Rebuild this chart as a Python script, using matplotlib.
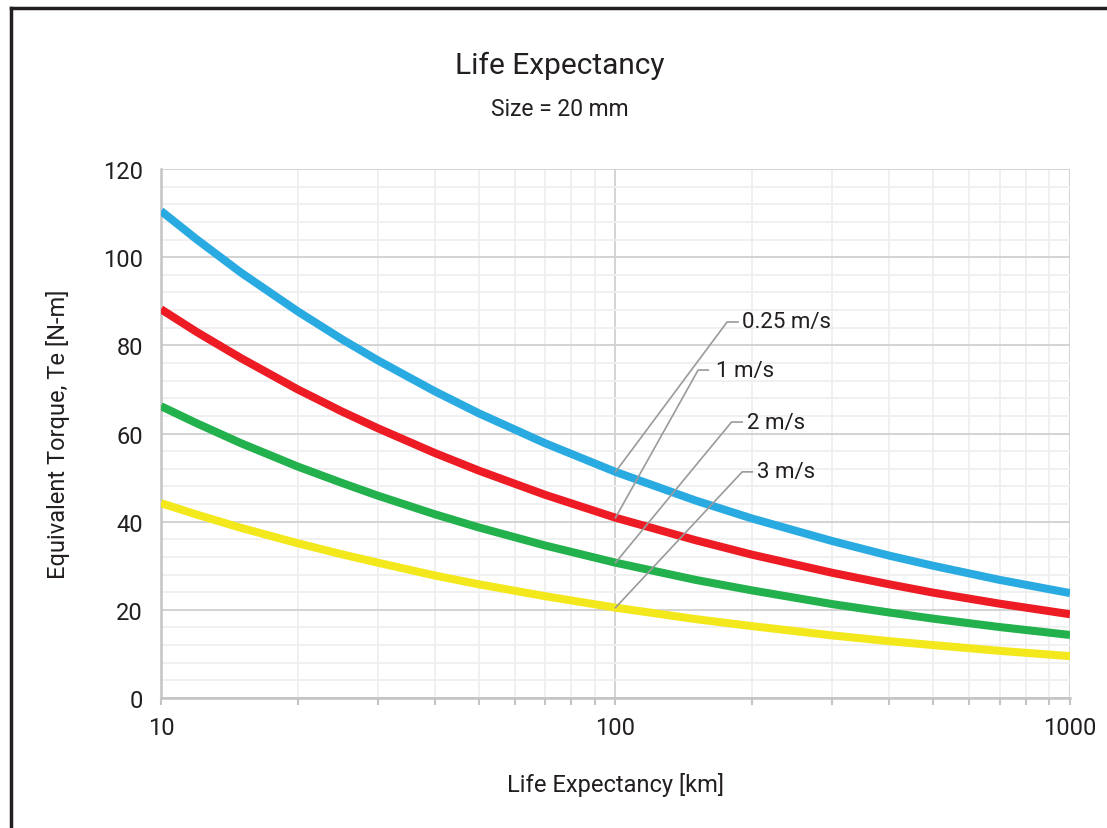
import matplotlib
matplotlib.use("Agg")
import matplotlib.pyplot as plt
from matplotlib.lines import Line2D
from matplotlib.ticker import FixedLocator, NullFormatter

# life expectancy [km]
life_km = [10, 12, 15, 20, 25, 30, 40, 50, 70, 100, 150, 200, 300, 400, 500, 700, 1000]

# equivalent torque [N-m]
torque_025 = [110.5, 104.0, 96.5, 87.7, 81.4, 76.6, 69.6, 64.6, 57.8, 51.3, 44.8, 40.7, 35.6, 32.3, 30.0, 26.8, 23.8]
torque_1 = [88.2, 83.0, 77.1, 70.0, 65.0, 61.2, 55.6, 51.6, 46.1, 40.9, 35.8, 32.5, 28.4, 25.8, 23.9, 21.4, 19.0]
torque_2 = [66.2, 62.3, 57.8, 52.5, 48.8, 45.9, 41.7, 38.7, 34.6, 30.7, 26.8, 24.4, 21.3, 19.4, 18.0, 16.1, 14.3]
torque_3 = [44.2, 41.6, 38.6, 35.1, 32.6, 30.7, 27.8, 25.8, 23.1, 20.5, 17.9, 16.3, 14.2, 12.9, 12.0, 10.7, 9.5]

speed_labels = ["0.25 m/s", "1 m/s", "2 m/s", "3 m/s"]
series = [torque_025, torque_1, torque_2, torque_3]
colors = ["#29abe2", "#ed1c24", "#22b14c", "#f2e81c"]

y_ticks = [0, 20, 40, 60, 80, 100, 120]
x_ticks = [10, 100, 1000]

# where the leader lines end (kink) and where the text sits
kink_x = [176, 152, 180, 190]
kink_y = [85.3, 74.4, 62.6, 51.3]
end_x = [186, 160, 190, 200]
text_x = [190, 166, 195, 205]

fam = ["Liberation Sans Narrow", "Roboto", "DejaVu Sans"]
txt = "#231f20"
plt.rcParams["font.family"] = fam

fig = plt.figure(figsize=(11.07, 8.29), dpi=100)
ax = fig.add_axes([0.1454, 0.1568, 0.8212, 0.6381])

for vals, c in zip(series, colors):
    ax.plot(life_km, vals, color=c, lw=5.8, solid_capstyle="butt", zorder=3)

ax.set_xscale("log")
ax.set_xlim(10, 1000)
ax.set_ylim(0, 120)

ax.xaxis.set_major_locator(FixedLocator(x_ticks))
ax.xaxis.set_minor_locator(FixedLocator([v * d for d in (10, 100) for v in range(2, 10)]))
ax.xaxis.set_minor_formatter(NullFormatter())
ax.set_xticklabels([str(v) for v in x_ticks])
ax.yaxis.set_major_locator(FixedLocator(y_ticks))
ax.yaxis.set_minor_locator(FixedLocator([v for v in range(0, 121, 4) if v % 20]))

ax.grid(which="major", color="#d0d0d0", lw=1.3, zorder=0)
ax.grid(which="minor", color="#efefef", lw=1.3, zorder=0)

for s in ["top", "right"]:
    ax.spines[s].set_visible(False)
for s in ["left", "bottom"]:
    ax.spines[s].set_color("#c4c4c4")
    ax.spines[s].set_linewidth(1.8)

ax.tick_params(axis="y", which="both", length=0, labelsize=17, colors=txt, pad=13)
ax.tick_params(axis="x", which="both", direction="out", length=5, width=1.5, color="#c4c4c4")
ax.tick_params(axis="x", which="major", labelsize=17, labelcolor=txt, pad=8)

for i, lab in enumerate(speed_labels):
    ax.plot([100, kink_x[i], end_x[i]], [series[i][9], kink_y[i], kink_y[i]],
            color="#9a9a9a", lw=1.2, zorder=4)
    ax.text(text_x[i], kink_y[i], lab, fontsize=16, color=txt, va="center", ha="left", zorder=5)

ax.set_xlabel("Life Expectancy [km]", fontsize=17, color=txt, labelpad=24)
ax.set_ylabel("Equivalent Torque, Te [N-m]", fontsize=17, color=txt, labelpad=24)

fig.text(0.506, 0.921, "Life Expectancy", fontsize=21.5, color=txt, ha="center", va="center")
fig.text(0.506, 0.868, "Size = 20 mm", fontsize=16.5, color=txt, ha="center", va="center")

# outer frame (left and top edges visible)
fig.add_artist(Line2D([0.0095, 0.0095], [0.0, 0.989], transform=fig.transFigure, color="#231f20", lw=2.5))
fig.add_artist(Line2D([0.0095, 1.0], [0.989, 0.989], transform=fig.transFigure, color="#231f20", lw=2.5))

fig.savefig("out.png", dpi=100)
